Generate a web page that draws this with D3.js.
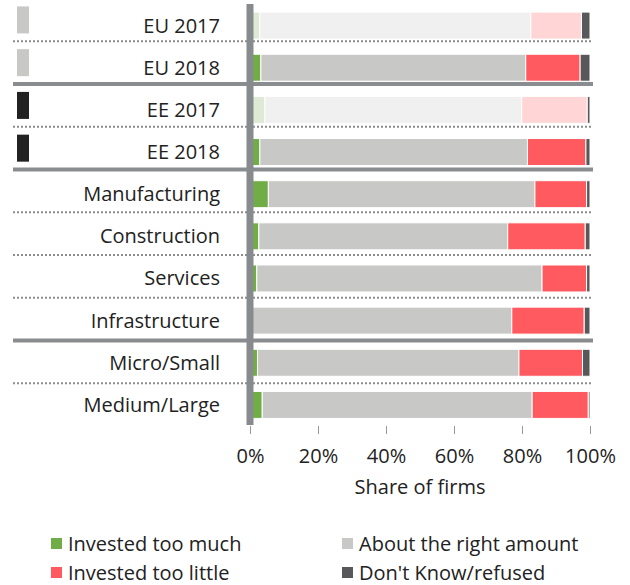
<!DOCTYPE html>
<html>
<head>
<meta charset="utf-8">
<script src="https://cdn.jsdelivr.net/npm/d3@7"></script>
<style>
  html, body { margin: 0; padding: 0; background: #fff; }
  svg { display: block; font-family: "Open Sans", "Noto Sans", sans-serif; }
</style>
</head>
<body>
<svg id="chart" width="630" height="585"></svg>
<script>
// ---- data ----
const categories = ["EU 2017", "EU 2018", "EE 2017", "EE 2018", "Manufacturing", "Construction", "Services", "Infrastructure", "Micro/Small", "Medium/Large"];
const tooMuch   = [2.9, 3.2, 4.4, 2.9, 5.4, 2.6, 2.0, 0.4, 2.2, 3.6];
const rightAmt  = [79.7, 77.9, 75.5, 78.7, 78.4, 73.2, 83.9, 76.6, 76.9, 79.4];
const tooLittle = [14.9, 16.0, 19.3, 17.2, 15.2, 22.8, 13.1, 21.3, 18.7, 16.5];
const dontKnow  = [2.5, 2.9, 0.8, 1.2, 1.0, 1.4, 1.0, 1.7, 2.2, 0.5];
const fadedRows = ["EU 2017", "EE 2017"];
const markerRows = ["EU 2017", "EU 2018", "EE 2017", "EE 2018"];
const markerKind = ["EU", "EU", "EE", "EE"];
const groupBreaksAfter = ["EU 2018", "EE 2018", "Infrastructure"];
const seriesNames = ["Invested too much", "About the right amount", "Invested too little", "Don't Know/refused"];
const tickValues = [0, 20, 40, 60, 80, 100];
const axisTitle = "Share of firms";

// ---- styles ----
const colors = ["#70ad47", "#c8c8c6", "#ff5a5f", "#58585a"];
const fadedColors = ["#dfead6", "#f0f0f0", "#ffd5d6", "#58585a"];
const markerColors = { EU: "#c8c8c6", EE: "#222222" };

const svg = d3.select("#chart");
const x = d3.scaleLinear().domain([0, 100]).range([250, 590]);
const yBar = d3.scaleBand().domain(categories).range([4.5, 426]).paddingInner(0.36).paddingOuter(0.18);
const yGrid = d3.scaleBand().domain(categories).range([-1.45, 426]);

const seriesData = [tooMuch, rightAmt, tooLittle, dontKnow];
const rows = categories.map((c, i) => ({ cat: c, vals: seriesData.map(s => s[i]) }));
const stack = d3.stack().keys([0, 1, 2, 3]).value((d, k) => d.vals[k]);
const stacked = stack(rows);

// separators
const sepG = svg.append("g");
categories.slice(0, -1).forEach(c => {
  const yy = yGrid(c) + yGrid.bandwidth();
  const thick = groupBreaksAfter.includes(c);
  sepG.append("line")
    .attr("x1", 13).attr("x2", 593).attr("y1", yy).attr("y2", yy)
    .attr("stroke", thick ? "#8a8d8f" : "#8c8c8c")
    .attr("stroke-width", thick ? 4 : 2)
    .attr("stroke-dasharray", thick ? null : "2,2");
});

// bars
const barG = svg.append("g");
stacked.forEach((layer, k) => {
  barG.selectAll(null).data(layer).enter().append("rect")
    .attr("x", d => x(d[0]))
    .attr("width", d => Math.max(0, x(d[1]) - x(d[0])))
    .attr("y", d => yBar(d.data.cat))
    .attr("height", yBar.bandwidth())
    .attr("fill", d => fadedRows.includes(d.data.cat) ? fadedColors[k] : colors[k])
    .attr("stroke", "#fff").attr("stroke-width", 1);
});

// vertical axis bar
svg.append("rect")
  .attr("x", x(0) - 3.5).attr("width", 7)
  .attr("y", 4).attr("height", 421)
  .attr("fill", "#888b8d");

// category labels
svg.append("g").selectAll("text").data(categories).enter().append("text")
  .attr("x", 220)
  .attr("y", d => yBar(d) + yBar.bandwidth() / 2)
  .attr("dy", "0.35em")
  .attr("text-anchor", "end")
  .attr("font-size", 20)
  .attr("fill", "#222")
  .text(d => d);

// markers for EU / EE
svg.append("g").selectAll("rect").data(markerRows).enter().append("rect")
  .attr("x", 17).attr("width", 12)
  .attr("y", d => yGrid(d) + yGrid.bandwidth() / 2 - 13.5)
  .attr("height", 27)
  .attr("fill", (d, i) => markerColors[markerKind[i]]);

// x axis
const xAxis = d3.axisBottom(x).tickValues(tickValues).tickFormat(d => d + "%").tickSize(8).tickPadding(12);
const axG = svg.append("g").attr("transform", "translate(0,426)").call(xAxis);
axG.select(".domain").remove();
axG.selectAll(".tick line").attr("stroke", "#999").attr("stroke-width", 1);
axG.selectAll(".tick text").attr("font-size", 20).attr("fill", "#222")
  .attr("font-family", "\"Open Sans\", \"Noto Sans\", sans-serif")
  .attr("dy", null).attr("y", 37);

svg.append("text")
  .attr("x", (x(0) + x(100)) / 2).attr("y", 494)
  .attr("text-anchor", "middle").attr("font-size", 20).attr("fill", "#222")
  .text(axisTitle);

// legend
const legPos = [[51, 538], [342, 538], [51, 567], [342, 567]];
const legOrder = [0, 1, 2, 3];
const legG = svg.append("g");
legOrder.forEach((k, i) => {
  const [lx, ly] = legPos[i];
  legG.append("rect").attr("x", lx).attr("y", ly).attr("width", 11).attr("height", 11).attr("fill", colors[k]);
  legG.append("text").attr("x", lx + 17).attr("y", ly + 13)
    .attr("font-size", 20).attr("fill", "#222").text(seriesNames[k]);
});
</script>
</body>
</html>
